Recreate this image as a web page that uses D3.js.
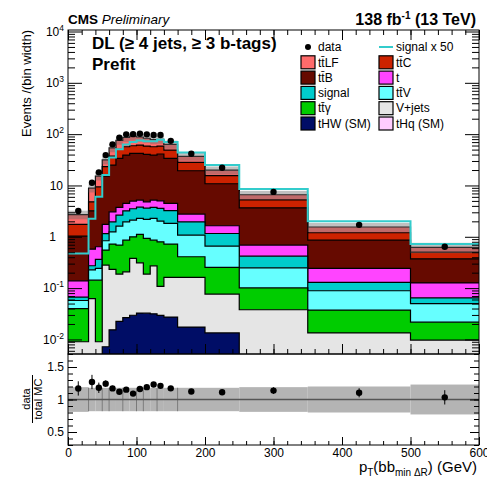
<!DOCTYPE html>
<html>
<head>
<meta charset="utf-8">
<script src="https://cdn.jsdelivr.net/npm/d3@7"></script>
<style>
  body { margin: 0; background: #fff; }
  svg { display: block; font-family: "Liberation Sans", Arial, Helvetica, sans-serif; }
</style>
</head>
<body>
<div id="chart"></div>
<script>
// bin edges, GeV
const binEdges = [0, 30, 40, 50, 60, 70, 80, 90, 100, 110, 120, 130, 140, 160, 200, 250, 350, 500, 600];

// MC processes, events / bin width (stack order: bottom first)
const tHq       = [0.0004, 0.0008, 0.001, 0.0012, 0.0014, 0.0015, 0.0016, 0.0016, 0.0016, 0.0015, 0.0015, 0.0014, 0.0012, 0.0009, 0.0006, 0.0004, 0.0002, 0.0001];
const tHW       = [0.0004, 0.0008, 0.0015, 0.006, 0.014, 0.021, 0.025, 0.028, 0.031, 0.031, 0.030, 0.028, 0.026, 0.0165, 0.0128, 0.0035, 0.0012, 0.0006];
const Vjets     = [0.0082, 0.061, 0.0065, 0.274, 0.216, 0.165, 0.181, 0.349, 0.278, 0.155, 0.24, 0.079, 0.134, 0.145, 0.063, 0.034, 0.012, 0.009];
const ttgamma   = [0.031, 0.08, 0.134, 0.269, 0.489, 0.503, 0.652, 0.621, 0.799, 0.743, 0.588, 0.691, 0.559, 0.246, 0.177, 0.063, 0.024, 0.012];
const ttV       = [0.0174, 0.085, 0.099, 0.286, 0.53, 0.93, 1.10, 1.12, 1.17, 1.25, 1.42, 1.22, 1.10, 0.672, 0.406, 0.148, 0.0515, 0.0282];
const signal    = [0.0095, 0.045, 0.12, 0.32, 0.70, 1.02, 1.25, 1.40, 1.50, 1.45, 1.45, 1.55, 1.40, 0.88, 0.50, 0.17, 0.040, 0.0145];
const singleTop = [0.072, 0.30, 0.278, 0.584, 1.12, 1.10, 1.27, 1.45, 1.41, 1.18, 1.46, 1.46, 1.26, 0.81, 0.48, 0.27, 0.113, 0.062];
const ttB       = [0.89, 2.63, 5.26, 13.5, 21.9, 30.0, 34.6, 37.3, 37.1, 35.6, 33.9, 36.0, 29.2, 16.6, 9.16, 2.98, 0.618, 0.245];
const ttC       = [0.71, 1.6, 3.5, 8.0, 12.4, 16.9, 17.7, 17.1, 19.0, 18.2, 17.7, 17.6, 15.3, 8.8, 4.7, 1.59, 0.34, 0.131];
const ttLF      = [0.97, 4.1, 5.85, 8.2, 16.7, 25.3, 29.2, 32.3, 26.6, 24.6, 21.2, 20.7, 14.2, 8.8, 4.4, 1.34, 0.35, 0.117];

// observed data and uncertainties
const dataValues = [3.17, 11.3, 18.0, 39.1, 63.3, 85, 99, 100, 102, 99, 96, 96, 74, 41.5, 22.1, 7.5, 1.71, 0.64];
const ratioErr   = [0.11, 0.11, 0.08, 0.05, 0.04, 0.035, 0.03, 0.03, 0.03, 0.03, 0.03, 0.03, 0.03, 0.035, 0.04, 0.05, 0.07, 0.11];
const mcUnc      = [0.19, 0.18, 0.18, 0.18, 0.18, 0.18, 0.18, 0.18, 0.18, 0.18, 0.18, 0.18, 0.18, 0.18, 0.18, 0.19, 0.20, 0.23];
const bandEdges  = [30, 50, 60, 80, 100, 110, 130, 160];
const signalScale = 50;

// ticks
const xTicks = [0, 100, 200, 300, 400, 500, 600];
const mainTicks = [1e-2, 1e-1, 1, 10, 1e2, 1e3, 1e4];
const ratioTicks = [0.5, 1, 1.5];

// processes & legend
const processes = ["tHq", "tHW", "Vjets", "ttgamma", "ttV", "signal", "singleTop", "ttB", "ttC", "ttLF"];
const processValues = { tHq, tHW, Vjets, ttgamma, ttV, signal, singleTop, ttB, ttC, ttLF };
const processColors = {
    tHq: "#ffccff", tHW: "#000d66", Vjets: "#e5e5e5", ttgamma: "#00cc00", ttV: "#66ffff",
    signal: "#00cccc", singleTop: "#ff44ff", ttB: "#660a00", ttC: "#cc2200", ttLF: "#ff6b6b"
};
const legendKeys   = ["data", "signalLine", "ttLF", "ttC", "ttB", "singleTop", "signal", "ttV", "ttgamma", "Vjets", "tHW", "tHq"];
const legendLabels = ["data", "signal x 50", "tt\u0304LF", "tt\u0304C", "tt\u0304B", "t", "signal", "tt\u0304V", "tt\u0304\u03b3", "V+jets", "tHW (SM)", "tHq (SM)"];
const signalLineColor = "#33cccc";

const W = 487, H = 480;
const plot = { left: 68, right: 479, top: 30, mid: 354, bottom: 445 };

const svg = d3.select("#chart").append("svg").attr("width", W).attr("height", H);

// scales
const x = d3.scaleLinear().domain([0, 600]).range([plot.left, plot.right]);
const y = d3.scaleLog().domain([0.0052, 10700]).range([plot.mid, plot.top]);
const yr = d3.scaleLinear().domain([0.3, 1.7]).range([plot.bottom, plot.mid]);

const nBins = binEdges.length - 1;
const table = d3.range(nBins).map(i => {
    const row = {};
    processes.forEach(k => row[k] = processValues[k][i]);
    return row;
});
const stacked = d3.stack().keys(processes)(table);
const total = stacked[stacked.length - 1].map(d => d[1]);

// clip paths
const defs = svg.append("defs");
defs.append("clipPath").attr("id", "clipMain").append("rect")
    .attr("x", plot.left).attr("y", plot.top)
    .attr("width", plot.right - plot.left).attr("height", plot.mid - plot.top);
defs.append("clipPath").attr("id", "clipRatio").append("rect")
    .attr("x", plot.left).attr("y", plot.mid)
    .attr("width", plot.right - plot.left).attr("height", plot.bottom - plot.mid);

// step helpers
const stepPts = vals => {
    const pts = vals.map((v, i) => [binEdges[i], v]);
    pts.push([binEdges[nBins], vals[nBins - 1]]);
    return pts;
};
const yc = v => y(Math.max(v, 1e-4));
const stepArea = d3.area().curve(d3.curveStepAfter)
    .x(d => x(d[0])).y0(plot.mid + 5).y1(d => yc(d[1]));
const stepLine = d3.line().curve(d3.curveStepAfter)
    .x(d => x(d[0])).y(d => yc(d[1]));

// ---- main panel ----
const gMain = svg.append("g").attr("clip-path", "url(#clipMain)");

// stacked histograms, largest cumulative first
stacked.slice().reverse().forEach(layer => {
    const tops = layer.map(d => d[1]);
    gMain.append("path").attr("d", stepArea(stepPts(tops)))
        .attr("fill", processColors[layer.key]);
    gMain.append("path").attr("d", stepLine(stepPts(tops)))
        .attr("fill", "none").attr("stroke", "#000").attr("stroke-width", 1.2);
});

// total MC uncertainty band
gMain.selectAll(".unc").data(total).join("rect")
    .attr("class", "unc")
    .attr("x", (d, i) => x(binEdges[i]))
    .attr("width", (d, i) => x(binEdges[i + 1]) - x(binEdges[i]))
    .attr("y", (d, i) => y(d * (1 + mcUnc[i])))
    .attr("height", (d, i) => y(d * (1 - mcUnc[i])) - y(d * (1 + mcUnc[i])))
    .attr("fill", "#6a6a6a").attr("fill-opacity", 0.42);

// signal x 50
gMain.append("path")
    .attr("d", stepLine(stepPts(signal.map(v => v * signalScale))))
    .attr("fill", "none").attr("stroke", signalLineColor).attr("stroke-width", 2);

// data points
const centers = d3.range(nBins).map(i => (binEdges[i] + binEdges[i + 1]) / 2);
gMain.selectAll(".derr").data(dataValues).join("line")
    .attr("x1", (d, i) => x(centers[i])).attr("x2", (d, i) => x(centers[i]))
    .attr("y1", (d, i) => y(d * (1 + ratioErr[i]))).attr("y2", (d, i) => y(d * (1 - ratioErr[i])))
    .attr("stroke", "#000");
gMain.selectAll(".dpt").data(dataValues).join("circle")
    .attr("cx", (d, i) => x(centers[i])).attr("cy", d => y(d)).attr("r", 3.2).attr("fill", "#000");

// ---- ratio panel ----
const gRatio = svg.append("g").attr("clip-path", "url(#clipRatio)");
gRatio.selectAll(".band").data(mcUnc).join("rect")
    .attr("x", (d, i) => x(binEdges[i]))
    .attr("width", (d, i) => x(binEdges[i + 1]) - x(binEdges[i]))
    .attr("y", d => yr(1 + d)).attr("height", d => yr(1 - d) - yr(1 + d))
    .attr("fill", "#b4b4b4");
gRatio.selectAll(".bedge").data(bandEdges).join("line")
    .attr("x1", d => x(d)).attr("x2", d => x(d))
    .attr("y1", d => yr(1 + mcUnc[binEdges.indexOf(d)]))
    .attr("y2", d => yr(1 - mcUnc[binEdges.indexOf(d)]))
    .attr("stroke", "#7a7a7a").attr("stroke-width", 1);
gRatio.append("line")
    .attr("x1", plot.left).attr("x2", plot.right).attr("y1", yr(1)).attr("y2", yr(1))
    .attr("stroke", "#555").attr("stroke-width", 1.5);

const ratios = dataValues.map((d, i) => d / total[i]);
gRatio.selectAll(".rerr").data(ratios).join("line")
    .attr("x1", (d, i) => x(centers[i])).attr("x2", (d, i) => x(centers[i]))
    .attr("y1", (d, i) => yr(d + ratioErr[i])).attr("y2", (d, i) => yr(d - ratioErr[i]))
    .attr("stroke", "#000");
gRatio.selectAll(".rpt").data(ratios).join("circle")
    .attr("cx", (d, i) => x(centers[i])).attr("cy", d => yr(d)).attr("r", 3.2).attr("fill", "#000");

// ---- axes ----
const addAxis = (axis, transform) => svg.append("g")
    .attr("transform", transform)
    .call(axis)
    .call(g => g.select(".domain").remove());

const xMinor = d3.range(0, 601, 20);
addAxis(d3.axisBottom(x).tickValues(xMinor).tickSize(-5).tickFormat(""), `translate(0,${plot.mid})`);
addAxis(d3.axisBottom(x).tickValues(xTicks).tickSize(-10).tickFormat(""), `translate(0,${plot.mid})`);
addAxis(d3.axisTop(x).tickValues(xMinor).tickSize(-5).tickFormat(""), `translate(0,${plot.top})`);
addAxis(d3.axisTop(x).tickValues(xTicks).tickSize(-10).tickFormat(""), `translate(0,${plot.top})`);

const yMinor = y.ticks().filter(v => !mainTicks.some(m => Math.abs(m - v) / m < 1e-6));
addAxis(d3.axisLeft(y).tickValues(yMinor).tickSize(-7).tickFormat(""), `translate(${plot.left},0)`);
addAxis(d3.axisLeft(y).tickValues(mainTicks).tickSize(-14).tickFormat(""), `translate(${plot.left},0)`);
addAxis(d3.axisRight(y).tickValues(yMinor).tickSize(-7).tickFormat(""), `translate(${plot.right},0)`);
addAxis(d3.axisRight(y).tickValues(mainTicks).tickSize(-14).tickFormat(""), `translate(${plot.right},0)`);

// log labels with superscripts
const yLab = svg.append("g").attr("font-size", 12);
mainTicks.forEach(v => {
    const exp = Math.round(Math.log10(v));
    const t = yLab.append("text").attr("y", y(v)).attr("dy", "0.35em").attr("text-anchor", "end");
    if (exp === 0) t.attr("x", 56).text("1");
    else if (exp === 1) t.attr("x", 63).text("10");
    else {
        t.attr("x", 64);
        t.append("tspan").text("10");
        t.append("tspan").attr("dy", -5).attr("font-size", 8.5).text(exp);
    }
});

// ratio axes
const yrMinor = yr.ticks(14);
addAxis(d3.axisLeft(yr).tickValues(yrMinor).tickSize(-5).tickFormat(""), `translate(${plot.left},0)`);
addAxis(d3.axisLeft(yr).tickValues(ratioTicks).tickSize(-9).tickPadding(4)
    .tickFormat(d => d === 1 ? "1" : d3.format(".1f")(d)), `translate(${plot.left},0)`)
    .attr("font-size", 12).attr("font-family", null);
addAxis(d3.axisRight(yr).tickValues(yrMinor).tickSize(-5).tickFormat(""), `translate(${plot.right},0)`);
addAxis(d3.axisRight(yr).tickValues(ratioTicks).tickSize(-9).tickFormat(""), `translate(${plot.right},0)`);
addAxis(d3.axisBottom(x).tickValues(xMinor).tickSize(-4).tickFormat(""), `translate(0,${plot.bottom})`);
addAxis(d3.axisBottom(x).tickValues(xTicks).tickSize(-8).tickPadding(3), `translate(0,${plot.bottom})`)
    .attr("font-size", 12).attr("font-family", null);

// frames
svg.append("rect").attr("x", plot.left).attr("y", plot.top)
    .attr("width", plot.right - plot.left).attr("height", plot.mid - plot.top)
    .attr("fill", "none").attr("stroke", "#000");
svg.append("rect").attr("x", plot.left).attr("y", plot.mid)
    .attr("width", plot.right - plot.left).attr("height", plot.bottom - plot.mid)
    .attr("fill", "none").attr("stroke", "#000");

// ---- titles ----
svg.append("text").attr("transform", "translate(31,30) rotate(-90)")
    .attr("text-anchor", "end").attr("font-size", 13).text("Events /(bin width)");

const ratioLab = svg.append("g").attr("transform", "translate(0,399) rotate(-90)");
ratioLab.append("text").attr("x", 0).attr("y", 30).attr("text-anchor", "middle")
    .attr("font-size", 11).text("data");
ratioLab.append("line").attr("x1", -24).attr("x2", 24).attr("y1", 32.5).attr("y2", 32.5)
    .attr("stroke", "#000");
ratioLab.append("text").attr("x", 0).attr("y", 42).attr("text-anchor", "middle")
    .attr("font-size", 11).text("total MC");

const xTitle = svg.append("text").attr("x", 477).attr("y", 472)
    .attr("text-anchor", "end").attr("font-size", 15);
xTitle.append("tspan").text("p");
xTitle.append("tspan").attr("dy", 4).attr("font-size", 10).text("T");
xTitle.append("tspan").attr("dy", -4).text("(bb");
xTitle.append("tspan").attr("dy", 4).attr("font-size", 10).text("min \u0394R");
xTitle.append("tspan").attr("dy", -4).text(") (GeV)");

const cms = svg.append("text").attr("x", 68).attr("y", 24).attr("font-size", 13.5);
cms.append("tspan").attr("font-weight", "bold").text("CMS");
cms.append("tspan").attr("font-style", "italic").text(" Preliminary");

const lumi = svg.append("text").attr("x", 476).attr("y", 25)
    .attr("text-anchor", "end").attr("font-size", 16).attr("font-weight", "bold");
lumi.append("tspan").text("138 fb");
lumi.append("tspan").attr("dy", -6).attr("font-size", 10).text("-1");
lumi.append("tspan").attr("dy", 6).text(" (13 TeV)");

svg.append("text").attr("x", 92).attr("y", 49).attr("font-size", 17).attr("font-weight", "bold")
    .text("DL (\u2265 4 jets, \u2265 3 b-tags)");
svg.append("text").attr("x", 92).attr("y", 70).attr("font-size", 17).attr("font-weight", "bold")
    .text("Prefit");

// ---- legend ----
const legendCols = [301, 379];
const legend = svg.append("g").attr("font-size", 12);
legendKeys.forEach((key, i) => {
    const cx = legendCols[i % 2];
    const cy = 47 + Math.floor(i / 2) * 15.3;
    if (key === "data") {
        legend.append("circle").attr("cx", cx + 7).attr("cy", cy).attr("r", 3).attr("fill", "#000");
    } else if (key === "signalLine") {
        legend.append("line").attr("x1", cx).attr("x2", cx + 14).attr("y1", cy).attr("y2", cy)
            .attr("stroke", signalLineColor).attr("stroke-width", 2);
    } else {
        legend.append("rect").attr("x", cx).attr("y", cy - 6.5).attr("width", 14).attr("height", 13)
            .attr("fill", processColors[key]).attr("stroke", "#000").attr("stroke-width", 1.2);
    }
    legend.append("text").attr("x", cx + 17).attr("y", cy).attr("dy", "0.35em").text(legendLabels[i]);
});
</script>
</body>
</html>
